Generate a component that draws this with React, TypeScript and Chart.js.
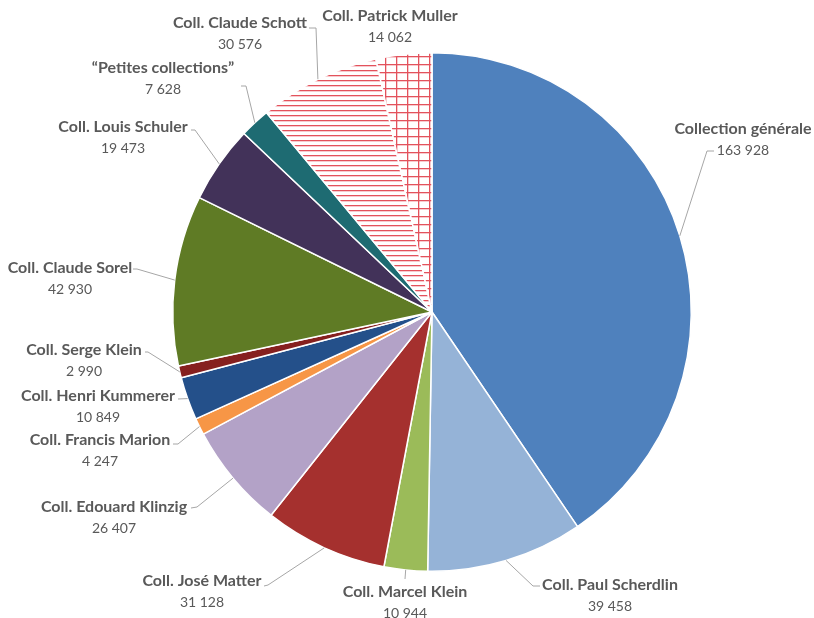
import React, { useEffect, useRef } from "react";
import { Chart, registerables } from "chart.js";

Chart.register(...registerables);

const categories = [
  "Collection générale",
  "Coll. Paul Scherdlin",
  "Coll. Marcel Klein",
  "Coll. José Matter",
  "Coll. Edouard Klinzig",
  "Coll. Francis Marion",
  "Coll. Henri Kummerer",
  "Coll. Serge Klein",
  "Coll. Claude Sorel",
  "Coll. Louis Schuler",
  "\u201CPetites collections\u201D",
  "Coll. Claude Schott",
  "Coll. Patrick Muller",
];

const values = [163928, 39458, 10944, 31128, 26407, 4247, 10849, 2990, 42930, 19473, 7628, 30576, 14062];

const colors = [
  "#4F81BD",
  "#95B3D7",
  "#9BBB59",
  "#A5302E",
  "#B3A2C7",
  "#F79646",
  "#24508A",
  "#86201F",
  "#5F7B25",
  "#423259",
  "#1E6B72",
  "hatchH",
  "hatchGrid",
];

// Layout: label text centre [x, y of name line], leader points (after arc point)
const labelPos: [number, number][] = [
  [743, 129],
  [610, 585],
  [405, 592],
  [202, 581],
  [114, 507],
  [100, 440],
  [98, 396],
  [84, 350],
  [70, 268],
  [123, 127],
  [163, 68],
  [240, 23],
  [390, 16],
];

const leaderPts: [number, number][][] = [
  [[707, 151], [714, 151]],
  [[533, 586], [540, 586]],
  [[405, 579]],
  [[268, 585], [264, 586]],
  [[197, 507], [191, 508]],
  [[178, 444], [173, 444]],
  [[178, 399]],
  [[148, 352], [145, 352]],
  [[137, 269], [133, 269]],
  [[195, 130], [191, 130]],
  [[246, 86], [241, 86]],
  [[316, 28], [309, 28]],
  [],
];

const fmt = (v: number) => String(v).replace(/\B(?=(\d{3})+(?!\d))/g, " ");

function makeHatchH(): CanvasPattern | string {
  const c = document.createElement("canvas");
  c.width = 8;
  c.height = 5;
  const g = c.getContext("2d")!;
  g.fillStyle = "#ffffff";
  g.fillRect(0, 0, 8, 5);
  g.fillStyle = "#E3525C";
  g.fillRect(0, 0, 8, 1.3);
  return g.createPattern(c, "repeat") || "#E3525C";
}

function makeHatchGrid(): CanvasPattern | string {
  const c = document.createElement("canvas");
  c.width = 11;
  c.height = 8;
  const g = c.getContext("2d")!;
  g.fillStyle = "#ffffff";
  g.fillRect(0, 0, 11, 8);
  g.fillStyle = "#E3525C";
  g.fillRect(0, 0, 11, 1.3);
  g.fillRect(0, 0, 1.3, 8);
  return g.createPattern(c, "repeat") || "#E3525C";
}

const labelPlugin = {
  id: "pieLabels",
  afterDatasetsDraw(chart: any) {
    const ctx = chart.ctx as CanvasRenderingContext2D;
    const meta = chart.getDatasetMeta(0);
    ctx.save();
    meta.data.forEach((arc: any, i: number) => {
      const mid = (arc.startAngle + arc.endAngle) / 2;
      const sx = arc.x + Math.cos(mid) * arc.outerRadius;
      const sy = arc.y + Math.sin(mid) * arc.outerRadius;
      const pts = leaderPts[i];
      if (pts.length) {
        ctx.beginPath();
        ctx.strokeStyle = "#A6A6A6";
        ctx.lineWidth = 1;
        ctx.moveTo(sx, sy);
        pts.forEach((p) => ctx.lineTo(p[0], p[1]));
        ctx.stroke();
      }
      const [lx, ly] = labelPos[i];
      ctx.fillStyle = "#595959";
      ctx.textAlign = "center";
      ctx.textBaseline = "middle";
      ctx.font = "bold 16px Lato";
      ctx.fillText(categories[i], lx, ly);
      ctx.font = "14px Lato";
      ctx.fillText(fmt(values[i]), lx, ly + 21);
    });
    ctx.restore();
  },
};

export default function App() {
  const ref = useRef<HTMLCanvasElement>(null);
  useEffect(() => {
    const canvas = ref.current!;
    const bg = colors.map((c) =>
      c === "hatchH" ? makeHatchH() : c === "hatchGrid" ? makeHatchGrid() : c
    );
    const chart = new Chart(canvas, {
      type: "pie",
      data: {
        labels: categories,
        datasets: [
          {
            data: values,
            backgroundColor: bg as any,
            borderColor: "#ffffff",
            borderWidth: 1.5,
          },
        ],
      },
      options: {
        responsive: false,
        animation: false,
        layout: { padding: { top: 52, bottom: 46, left: 172, right: 122 } },
        plugins: {
          legend: { display: false },
          tooltip: { enabled: false },
        },
      },
      plugins: [labelPlugin],
    });
    return () => chart.destroy();
  }, []);
  return (
    <div style={{ position: "absolute", left: 0, top: 0, width: 814, height: 618, background: "#fff" }}>
      <canvas ref={ref} width={814} height={618} />
    </div>
  );
}
